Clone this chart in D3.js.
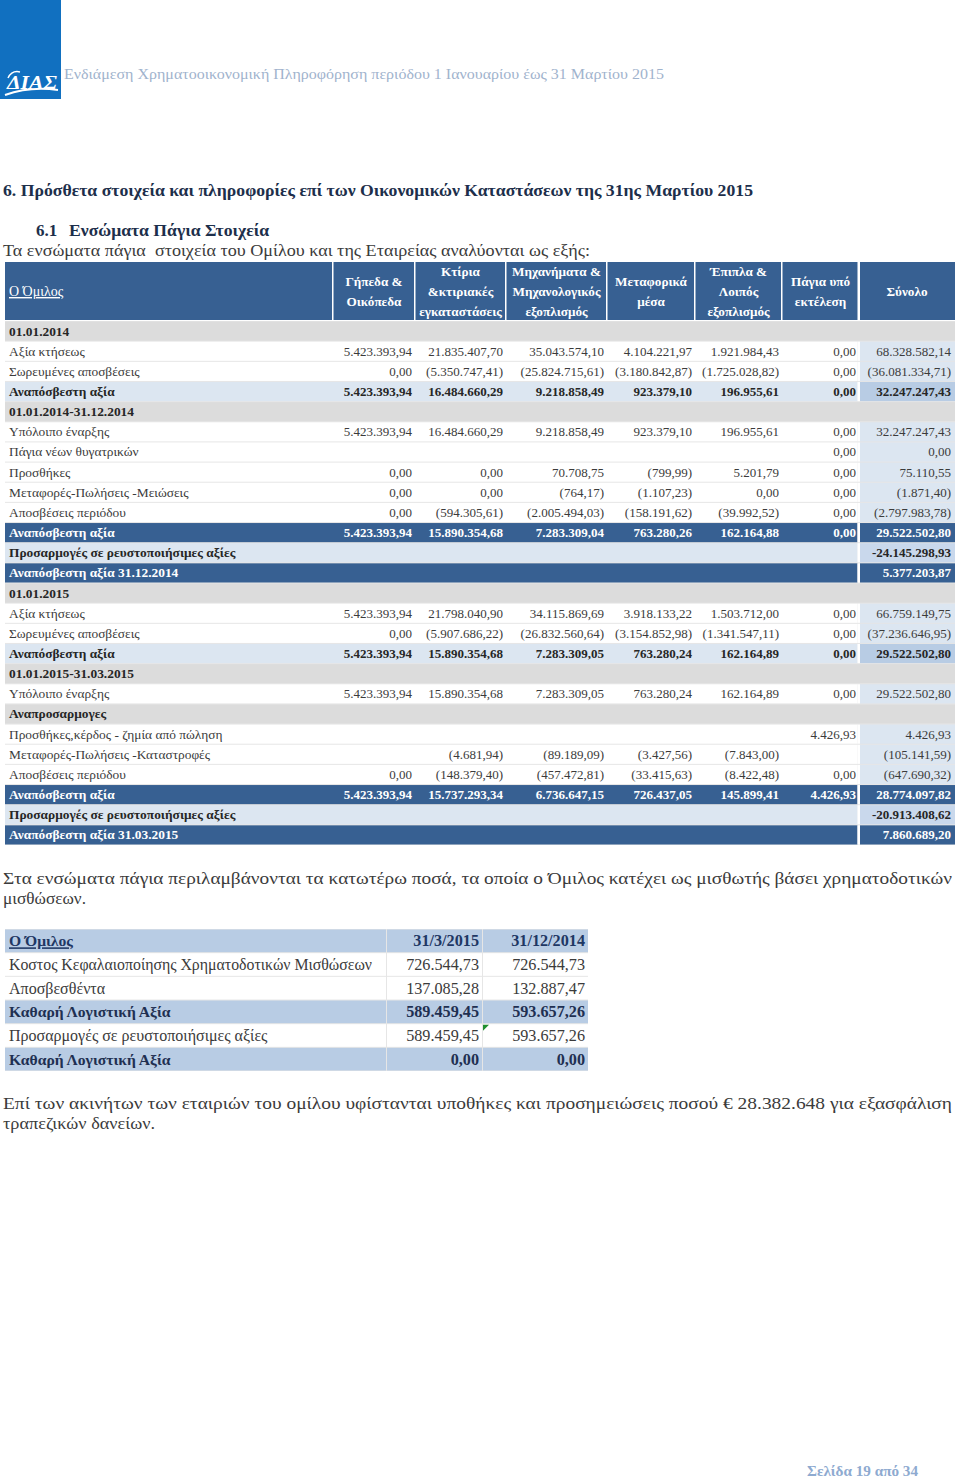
<!DOCTYPE html>
<html><head><meta charset="utf-8">
<script src="https://cdn.jsdelivr.net/npm/d3@7"></script>
<style>
html,body{margin:0;padding:0;background:#fff;}
svg{display:block;}
</style></head>
<body>
<script>
// ---------------- DATA ----------------
const headerText = "Ενδιάμεση Χρηματοοικονομική Πληροφόρηση περιόδου 1 Ιανουαρίου έως 31 Μαρτίου 2015";
const sectionTitle = "6. Πρόσθετα στοιχεία και πληροφορίες επί των Οικονομικών Καταστάσεων της 31ης Μαρτίου 2015";
const subNumber = "6.1";
const subTitle = "Ενσώματα Πάγια Στοιχεία";
const introText = "Τα ενσώματα πάγια  στοιχεία του Ομίλου και της Εταιρείας αναλύονται ως εξής:";
const groupLabel = "Ο Όμιλος";
const columnHeaders = [
  ["Γήπεδα &", "Οικόπεδα"],
  ["Κτίρια", "&κτιριακές", "εγκαταστάσεις"],
  ["Μηχανήματα &", "Μηχανολογικός", "εξοπλισμός"],
  ["Μεταφορικά", "μέσα"],
  ["Έπιπλα &", "Λοιπός", "εξοπλισμός"],
  ["Πάγια υπό", "εκτέλεση"],
  ["Σύνολο"]
];
const rowLabels = [
  "01.01.2014", "Αξία κτήσεως", "Σωρευμένες αποσβέσεις", "Αναπόσβεστη αξία",
  "01.01.2014-31.12.2014", "Υπόλοιπο έναρξης", "Πάγια νέων θυγατρικών", "Προσθήκες",
  "Μεταφορές-Πωλήσεις -Μειώσεις", "Αποσβέσεις περιόδου", "Αναπόσβεστη αξία",
  "Προσαρμογές σε ρευστοποιήσιμες αξίες", "Αναπόσβεστη αξία 31.12.2014",
  "01.01.2015", "Αξία κτήσεως", "Σωρευμένες αποσβέσεις", "Αναπόσβεστη αξία",
  "01.01.2015-31.03.2015", "Υπόλοιπο έναρξης", "Αναπροσαρμογες",
  "Προσθήκες,κέρδος - ζημία από πώληση", "Μεταφορές-Πωλήσεις -Καταστροφές",
  "Αποσβέσεις περιόδου", "Αναπόσβεστη αξία", "Προσαρμογές σε ρευστοποιήσιμες αξίες",
  "Αναπόσβεστη αξία 31.03.2015"
];
const rowTypes = [
  "section", "normal", "normal", "subtotal",
  "section", "normal", "normal", "normal",
  "normal", "normal", "total",
  "adjust", "final",
  "section", "normal", "normal", "subtotal",
  "section", "normal", "section",
  "normal", "normal",
  "normal", "total", "adjust",
  "final"
];
const _ = null;
const rowValues = [
  [_, _, _, _, _, _, _],
  [5423393.94, 21835407.70, 35043574.10, 4104221.97, 1921984.43, 0, 68328582.14],
  [0, -5350747.41, -25824715.61, -3180842.87, -1725028.82, 0, -36081334.71],
  [5423393.94, 16484660.29, 9218858.49, 923379.10, 196955.61, 0, 32247247.43],
  [_, _, _, _, _, _, _],
  [5423393.94, 16484660.29, 9218858.49, 923379.10, 196955.61, 0, 32247247.43],
  [_, _, _, _, _, 0, 0],
  [0, 0, 70708.75, -799.99, 5201.79, 0, 75110.55],
  [0, 0, -764.17, -1107.23, 0, 0, -1871.40],
  [0, -594305.61, -2005494.03, -158191.62, -39992.52, 0, -2797983.78],
  [5423393.94, 15890354.68, 7283309.04, 763280.26, 162164.88, 0, 29522502.80],
  [_, _, _, _, _, _, -24145298.93],
  [_, _, _, _, _, _, 5377203.87],
  [_, _, _, _, _, _, _],
  [5423393.94, 21798040.90, 34115869.69, 3918133.22, 1503712.00, 0, 66759149.75],
  [0, -5907686.22, -26832560.64, -3154852.98, -1341547.11, 0, -37236646.95],
  [5423393.94, 15890354.68, 7283309.05, 763280.24, 162164.89, 0, 29522502.80],
  [_, _, _, _, _, _, _],
  [5423393.94, 15890354.68, 7283309.05, 763280.24, 162164.89, 0, 29522502.80],
  [_, _, _, _, _, _, _],
  [_, _, _, _, _, 4426.93, 4426.93],
  [_, -4681.94, -89189.09, -3427.56, -7843.00, _, -105141.59],
  [0, -148379.40, -457472.81, -33415.63, -8422.48, 0, -647690.32],
  [5423393.94, 15737293.34, 6736647.15, 726437.05, 145899.41, 4426.93, 28774097.82],
  [_, _, _, _, _, _, -20913408.62],
  [_, _, _, _, _, _, 7860689.20]
];

const leaseText1 = "Στα ενσώματα πάγια περιλαμβάνονται τα κατωτέρω ποσά, τα οποία ο Όμιλος κατέχει ως μισθωτής βάσει χρηματοδοτικών";
const leaseText2 = "μισθώσεων.";
const leaseHeaders = ["Ο Όμιλος", "31/3/2015", "31/12/2014"];
const leaseLabels = ["Κοστος Κεφαλαιοποίησης Χρηματοδοτικών Μισθώσεων", "Αποσβεσθέντα", "Καθαρή Λογιστική Αξία", "Προσαρμογές σε ρευστοποιήσιμες αξίες", "Καθαρή Λογιστική Αξία"];
const leaseTypes = ["normal", "normal", "bold", "normal", "bold"];
const lease2015 = [726544.73, 137085.28, 589459.45, 589459.45, 0];
const lease2014 = [726544.73, 132887.47, 593657.26, 593657.26, 0];
const mortgageText1 = "Επί των ακινήτων των εταιριών του ομίλου υφίστανται υποθήκες και προσημειώσεις ποσού € 28.382.648 για εξασφάλιση";
const mortgageText2 = "τραπεζικών δανείων.";
const footerText = "Σελίδα 19 από 34";

// ---------------- LAYOUT / STYLE ----------------
const W = 960, H = 1481;
const SERIF = "'Liberation Serif', 'Times New Roman', serif";
const C = {
  logo: "#1170c0", headerTxt: "#9fb3cd", title: "#1d2f4b", text: "#3b3b3b", dark: "#376092",
  light: "#dce6f1", mid: "#b8cce4", adj: "#c9d8ec", gray: "#dcdcdc", line: "#e6e6e6", footer: "#8eaad0"
};
const colEdges = [5, 333, 415, 506, 607, 695, 782, 859, 955];

const loc = d3.formatLocale({decimal: ",", thousands: ".", grouping: [3], currency: ["€", ""], minus: "-"});
const f2 = loc.format(",.2f");
function fmt(v, type) {
  if (v === null || v === undefined) return "";
  if (type === "adjust") return f2(v);
  return v < 0 ? "(" + f2(-v) + ")" : f2(v);
}

const svg = d3.select("body").append("svg").attr("width", W).attr("height", H)
  .style("font-family", SERIF);
svg.append("rect").attr("width", W).attr("height", H).attr("fill", "#fff");

// ---- page header ----
svg.append("rect").attr("x", 0).attr("y", 0).attr("width", 61).attr("height", 99).attr("fill", C.logo);
const logo = svg.append("g");
logo.append("text").attr("x", 7).attr("y", 89).attr("fill", "#fff")
  .attr("font-size", 19).attr("font-weight", "bold").attr("font-style", "italic")
  .attr("textLength", 50).attr("lengthAdjust", "spacingAndGlyphs").text("ΔΙΑΣ");
logo.append("path").attr("d", "M5,95 Q30,86 58,90").attr("stroke", "#fff").attr("stroke-width", 2).attr("fill", "none");
logo.append("path").attr("d", "M8,78 Q12,70 20,72").attr("stroke", "#fff").attr("stroke-width", 1.5).attr("fill", "none");

svg.append("text").attr("x", 64).attr("y", 79).attr("fill", C.headerTxt).attr("font-size", 15.5)
  .attr("textLength", 600).attr("lengthAdjust", "spacingAndGlyphs").text(headerText);

svg.append("text").attr("x", 3).attr("y", 196).attr("fill", C.title).attr("font-size", 17.5).attr("font-weight", "bold")
  .attr("textLength", 750).attr("lengthAdjust", "spacingAndGlyphs").text(sectionTitle);
svg.append("text").attr("x", 36).attr("y", 236).attr("fill", C.title).attr("font-size", 17).attr("font-weight", "bold")
  .text(subNumber);
svg.append("text").attr("x", 69).attr("y", 236).attr("fill", C.title).attr("font-size", 17).attr("font-weight", "bold")
  .attr("textLength", 200).attr("lengthAdjust", "spacingAndGlyphs").text(subTitle);
svg.append("text").attr("x", 3).attr("y", 256).attr("fill", C.text).attr("font-size", 17)
  .attr("textLength", 587).attr("lengthAdjust", "spacingAndGlyphs").style("white-space", "pre").text(introText);

// ---- main table ----
const hdrTop = 262, hdrBot = 320;
const hdr = svg.append("g");
hdr.append("rect").attr("x", colEdges[0]).attr("y", hdrTop).attr("width", colEdges[8] - colEdges[0]).attr("height", hdrBot - hdrTop).attr("fill", C.dark);
colEdges.slice(1, 8).forEach((x, i) => {
  hdr.append("rect").attr("x", x - (i === 6 ? 1.5 : 1)).attr("y", hdrTop).attr("width", i === 6 ? 2.5 : 1.5).attr("height", hdrBot - hdrTop).attr("fill", "#fff");
});
hdr.append("text").attr("x", 9).attr("y", 296).attr("fill", "#fff").attr("font-size", 14)
  .attr("text-decoration", "underline").text(groupLabel);
const hdrMid = (hdrTop + hdrBot) / 2;
columnHeaders.forEach((lines, i) => {
  const cx = (colEdges[i + 1] + colEdges[i + 2]) / 2;
  const t = hdr.append("text").attr("fill", "#fff").attr("font-size", 13.2).attr("font-weight", "bold").attr("text-anchor", "middle");
  lines.forEach((ln, j) => {
    t.append("tspan").attr("x", cx).attr("y", hdrMid + 4.5 + (j - (lines.length - 1) / 2) * 20).text(ln);
  });
});

const nRows = rowLabels.length;
const y = d3.scaleBand().domain(d3.range(nRows)).range([321, 845]).paddingInner(0);
const rh = y.bandwidth();
const body = svg.append("g");
body.append("rect").attr("x", colEdges[0]).attr("y", 321).attr("width", colEdges[8] - colEdges[0]).attr("height", 845 - 321).attr("fill", C.line);

const rows = body.selectAll("g.row").data(d3.range(nRows)).join("g").attr("class", "row")
  .attr("transform", i => `translate(0,${y(i)})`);

rows.each(function (i) {
  const g = d3.select(this);
  const type = rowTypes[i];
  const x0 = colEdges[0], x7 = colEdges[7], x8 = colEdges[8];
  let mainFill, totFill, txtFill = C.text, bold = false;
  if (type === "section") { mainFill = C.gray; totFill = C.gray; bold = true; txtFill = "#262626"; }
  else if (type === "normal") { mainFill = "#fff"; totFill = C.light; }
  else if (type === "subtotal") { mainFill = C.light; totFill = C.mid; bold = true; txtFill = "#262626"; }
  else if (type === "adjust") { mainFill = C.light; totFill = C.adj; bold = true; txtFill = "#262626"; }
  else { mainFill = C.dark; totFill = C.dark; bold = true; txtFill = "#fff"; }
  if (type === "section") {
    g.append("rect").attr("x", x0).attr("y", 0.5).attr("width", x8 - x0).attr("height", rh - 1).attr("fill", mainFill);
  } else {
    g.append("rect").attr("x", x0).attr("y", 0.5).attr("width", x7 - 1.5 - x0).attr("height", rh - 1).attr("fill", mainFill);
    g.append("rect").attr("x", x7 - 1.5).attr("y", 0.5).attr("width", 2.5).attr("height", rh - 1).attr("fill", "#fff");
    g.append("rect").attr("x", x7 + 1).attr("y", 0.5).attr("width", x8 - x7 - 1).attr("height", rh - 1).attr("fill", totFill);
  }
  g.append("text").attr("x", 9).attr("y", rh / 2 + 4.5).attr("fill", txtFill).attr("font-size", 13.4)
    .attr("font-weight", bold ? "bold" : "normal").text(rowLabels[i]);
  rowValues[i].forEach((v, k) => {
    if (v === null) return;
    g.append("text").attr("x", colEdges[k + 2] - (k === 6 ? 4 : 3)).attr("y", rh / 2 + 4.5)
      .attr("text-anchor", "end").attr("fill", txtFill).attr("font-size", 13)
      .attr("font-weight", bold ? "bold" : "normal").text(fmt(v, type));
  });
});

// ---- lease paragraph ----
svg.append("text").attr("x", 3).attr("y", 884).attr("fill", C.text).attr("font-size", 17)
  .attr("textLength", 949).attr("lengthAdjust", "spacingAndGlyphs").text(leaseText1);
svg.append("text").attr("x", 3).attr("y", 904).attr("fill", C.text).attr("font-size", 17)
  .attr("textLength", 83).attr("lengthAdjust", "spacingAndGlyphs").text(leaseText2);

// ---- lease table ----
const lEdges = [5, 386, 482, 588];
const ly = d3.scaleBand().domain(d3.range(leaseLabels.length + 1)).range([929, 1071]);
const lh = ly.bandwidth();
const lt = svg.append("g");
lt.append("rect").attr("x", lEdges[0]).attr("y", 929).attr("width", lEdges[3] - lEdges[0]).attr("height", 1071 - 929).attr("fill", C.line);
const lRowsData = [{label: leaseHeaders[0], vals: [leaseHeaders[1], leaseHeaders[2]], type: "head"}]
  .concat(leaseLabels.map((l, i) => ({label: l, vals: [loc.format(",.2f")(lease2015[i]), loc.format(",.2f")(lease2014[i])], type: leaseTypes[i]})));
lRowsData.forEach((r, i) => {
  const g = lt.append("g").attr("transform", `translate(0,${ly(i)})`);
  const fill = r.type === "normal" ? "#fff" : C.mid;
  for (let k = 0; k < 3; k++) {
    g.append("rect").attr("x", lEdges[k] + (k ? 1 : 0)).attr("y", 0.5).attr("width", lEdges[k + 1] - lEdges[k] - (k ? 1 : 0)).attr("height", lh - 1).attr("fill", fill);
  }
  const bold = r.type !== "normal";
  const col = r.type === "head" ? "#1f3864" : (bold ? "#1f3052" : C.text);
  const lbl = g.append("text").attr("x", 9).attr("y", lh / 2 + 5.5).attr("fill", col).attr("font-size", bold ? 15.6 : 16)
    .attr("font-weight", bold ? "bold" : "normal").text(r.label);
  if (r.type === "head") lbl.attr("text-decoration", "underline");
  if (i === 1) lbl.attr("textLength", 363).attr("lengthAdjust", "spacingAndGlyphs");
  r.vals.forEach((v, k) => {
    g.append("text").attr("x", lEdges[k + 2] - 3).attr("y", lh / 2 + 5.5).attr("text-anchor", "end")
      .attr("fill", col).attr("font-size", 16.2).attr("font-weight", bold ? "bold" : "normal").text(v);
  });
});
// comment marker
lt.append("path").attr("d", `M483,${ly(4) + 1} l6,0 l-6,6 z`).attr("fill", "#1f8f2f");

// ---- mortgage paragraph ----
svg.append("text").attr("x", 3).attr("y", 1109).attr("fill", C.text).attr("font-size", 17)
  .attr("textLength", 949).attr("lengthAdjust", "spacingAndGlyphs").text(mortgageText1);
svg.append("text").attr("x", 3).attr("y", 1129).attr("fill", C.text).attr("font-size", 17)
  .attr("textLength", 152).attr("lengthAdjust", "spacingAndGlyphs").text(mortgageText2);

// ---- footer ----
svg.append("text").attr("x", 807).attr("y", 1476).attr("fill", C.footer).attr("font-size", 14.5).attr("font-weight", "bold")
  .attr("textLength", 111).attr("lengthAdjust", "spacingAndGlyphs").text(footerText);
</script>
</body></html>
